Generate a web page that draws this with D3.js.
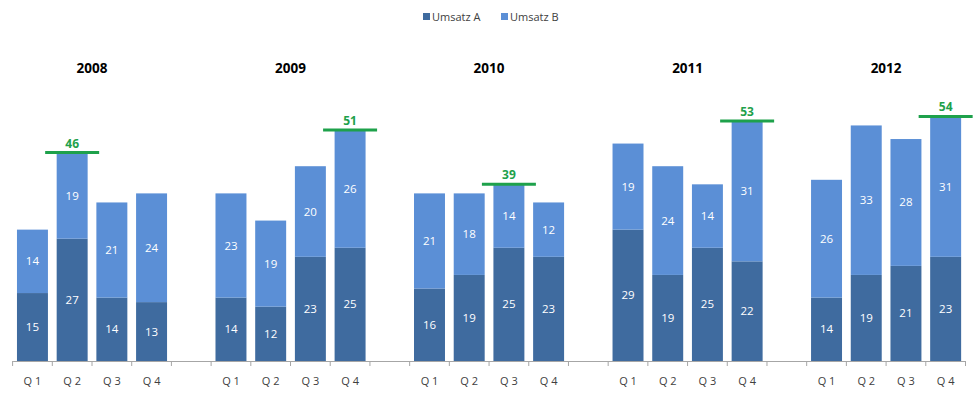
<!DOCTYPE html>
<html>
<head>
<meta charset="utf-8">
<script src="https://cdn.jsdelivr.net/npm/d3@7"></script>
<style>
    body { margin: 0; background: #fff; }
    text { font-family: "Open Sans", "Noto Sans", sans-serif; }
</style>
</head>
<body>
<div id="chart"></div>
<script>
var years = ["2008", "2009", "2010", "2011", "2012"];
var quarters = ["Q 1", "Q 2", "Q 3", "Q 4"];
var umsatzA = [
    [15, 27, 14, 13],
    [14, 12, 23, 25],
    [16, 19, 25, 23],
    [29, 19, 25, 22],
    [14, 19, 21, 23]
];
var umsatzB = [
    [14, 19, 21, 24],
    [23, 19, 20, 26],
    [21, 18, 14, 12],
    [19, 24, 14, 31],
    [26, 33, 28, 31]
];
var seriesNames = ["Umsatz A", "Umsatz B"];
var colors = ["#3F6B9F", "#5B8FD6"];

var width = 979, height = 393;
var baseY = 361;

var svg = d3.select("#chart").append("svg")
    .attr("width", width)
    .attr("height", height);

// one slot per quarter plus an empty slot between the years
var slots = [];
years.forEach(function(y, yi) {
    quarters.forEach(function(q, qi) {
        slots.push(y + "|" + q);
    });
    if (yi < years.length - 1) slots.push("gap" + yi);
});

var x = d3.scaleBand()
    .domain(slots)
    .range([12.6, 965.5])
    .paddingInner(0.22)
    .paddingOuter(0.11);

var yScale = d3.scaleLinear()
    .domain([0, 60])
    .range([baseY, baseY - 60 * 4.53]);

var data = [];
years.forEach(function(y, yi) {
    quarters.forEach(function(q, qi) {
        data.push({
            key: y + "|" + q,
            year: y,
            a: umsatzA[yi][qi],
            b: umsatzB[yi][qi]
        });
    });
});

// bars
var g = svg.append("g");
g.selectAll("rect.a")
    .data(data)
    .enter()
    .append("rect")
    .attr("x", function(d) { return x(d.key); })
    .attr("width", x.bandwidth())
    .attr("y", function(d) { return yScale(d.a); })
    .attr("height", function(d) { return baseY - yScale(d.a); })
    .attr("fill", colors[0]);

g.selectAll("rect.b")
    .data(data)
    .enter()
    .append("rect")
    .attr("x", function(d) { return x(d.key); })
    .attr("width", x.bandwidth())
    .attr("y", function(d) { return yScale(d.a + d.b); })
    .attr("height", function(d) { return yScale(d.a) - yScale(d.a + d.b); })
    .attr("fill", colors[1]);

// value labels
g.selectAll("text.la")
    .data(data)
    .enter()
    .append("text")
    .attr("x", function(d) { return x(d.key) + x.bandwidth() / 2; })
    .attr("y", function(d) { return (baseY + yScale(d.a)) / 2; })
    .attr("dy", "0.35em")
    .attr("text-anchor", "middle")
    .attr("fill", "#fff")
    .style("font-size", "11.5px")
    .text(function(d) { return d.a; });

g.selectAll("text.lb")
    .data(data)
    .enter()
    .append("text")
    .attr("x", function(d) { return x(d.key) + x.bandwidth() / 2; })
    .attr("y", function(d) { return (yScale(d.a) + yScale(d.a + d.b)) / 2; })
    .attr("dy", "0.35em")
    .attr("text-anchor", "middle")
    .attr("fill", "#fff")
    .style("font-size", "11.5px")
    .text(function(d) { return d.b; });

// max marker per year
years.forEach(function(y, yi) {
    var yearData = data.filter(function(d) { return d.year === y; });
    var top = d3.greatest(yearData, function(d) { return d.a + d.b; });
    var total = top.a + top.b;
    var cx = x(top.key) + x.bandwidth() / 2;
    svg.append("line")
        .attr("x1", cx - 27)
        .attr("x2", cx + 27)
        .attr("y1", yScale(total))
        .attr("y2", yScale(total))
        .attr("stroke", "#1EA14B")
        .attr("stroke-width", 3);
    svg.append("text")
        .attr("x", cx)
        .attr("y", yScale(total) - 5)
        .attr("text-anchor", "middle")
        .attr("fill", "#1EA14B")
        .style("font-size", "12px")
        .style("font-weight", "bold")
        .text(total);

    // year title centred over its quarters
    var x0 = x(y + "|" + quarters[0]);
    var x1 = x(y + "|" + quarters[3]) + x.bandwidth();
    svg.append("text")
        .attr("x", (x0 + x1) / 2)
        .attr("y", 73)
        .attr("text-anchor", "middle")
        .attr("fill", "#000")
        .style("font-size", "13.5px")
        .style("font-weight", "bold")
        .text(y);
});

// category axis
var step = x.step();
var xAxis = d3.axisBottom(x)
    .tickSize(0)
    .tickFormat(function(d) { return d.indexOf("|") >= 0 ? d.split("|")[1] : ""; });

var axisG = svg.append("g")
    .attr("transform", "translate(0," + baseY + ")")
    .call(xAxis);
axisG.select(".domain").attr("stroke", "#A6A6A6");
axisG.selectAll(".tick text")
    .attr("y", 16)
    .attr("fill", "#404040")
    .style("font-size", "11px")
    .style("font-family", "'Open Sans', sans-serif");

// tick marks between categories
var boundaries = d3.range(slots.length + 1).map(function(i) { return x.range()[0] + i * step; });
axisG.selectAll("line.sep")
    .data(boundaries)
    .enter()
    .append("line")
    .attr("x1", function(d) { return d; })
    .attr("x2", function(d) { return d; })
    .attr("y1", 0)
    .attr("y2", 5)
    .attr("stroke", "#A6A6A6");

// legend
var legend = svg.append("g").attr("transform", "translate(423, 12)");
var legendX = [0, 78];
seriesNames.forEach(function(name, i) {
    legend.append("rect")
        .attr("x", legendX[i])
        .attr("y", 1)
        .attr("width", 7)
        .attr("height", 7)
        .attr("fill", colors[i]);
    legend.append("text")
        .attr("x", legendX[i] + 9)
        .attr("y", 9)
        .attr("fill", "#404040")
        .style("font-size", "11px")
        .text(name);
});
</script>
</body>
</html>
